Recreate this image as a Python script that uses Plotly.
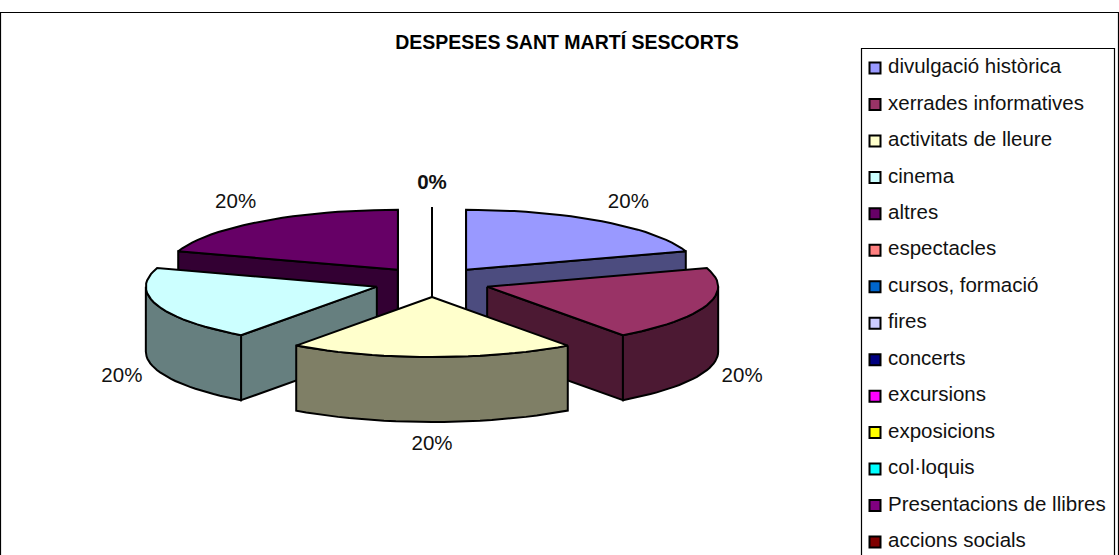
import math
import plotly.graph_objects as go

TITLE = "DESPESES SANT MARTÍ SESCORTS"
CATEGORIES = ["divulgació històrica", "xerrades informatives", "activitats de lleure", "cinema", "altres",
              "espectacles", "cursos, formació", "fires", "concerts", "excursions",
              "exposicions", "col·loquis", "Presentacions de llibres", "accions socials"]
VALUES = [20, 20, 20, 20, 20, 0, 0, 0, 0, 0, 0, 0, 0, 0]
TOP_COLORS = ["#9999FF", "#993366", "#FFFFCC", "#CCFFFF", "#660066", "#FF8080", "#0066CC",
              "#CCCCFF", "#000080", "#FF00FF", "#FFFF00", "#00FFFF", "#800080", "#800000"]

CX, CY, RX, RY, DEPTH = 432, 282, 231, 60, 65
EXPLODE = 58
FONT = "Liberation Sans, Arial, sans-serif"


def shade(col):
    r, g, b = (int(col[i:i + 2], 16) for i in (1, 3, 5))
    return f"rgb({r // 2},{g // 2},{b // 2})"


fig = go.Figure()


def poly(xs, ys, color):
    fig.add_trace(go.Scatter(x=xs, y=ys, mode="lines", fill="toself", fillcolor=color,
                             line=dict(color="black", width=2), hoverinfo="skip",
                             showlegend=False))


def rim(ax, ay, deg):
    t = math.radians(deg)
    return ax + RX * math.sin(t), ay - RY * math.cos(t)


total = sum(VALUES)
slices, acc = [], 0.0
for i, v in enumerate(VALUES):
    a = acc
    acc += 360.0 * v / total
    slices.append((i, v, a, acc))

for i, v, a, b in sorted(slices, key=lambda s: -math.cos(math.radians((s[2] + s[3]) / 2))):
    mid = math.radians((a + b) / 2)
    ax = CX + EXPLODE * math.sin(mid)
    ay = CY - EXPLODE * RY / RX * math.cos(mid)
    top, side = TOP_COLORS[i], shade(TOP_COLORS[i])
    # radial walls that face the viewer
    for deg, visible in ((a, math.sin(math.radians(a)) <= 1e-6), (b, math.sin(math.radians(b)) >= -1e-6)):
        if visible:
            px, py = rim(ax, ay, deg)
            poly([ax, px, px, ax, ax], [ay, py, py + DEPTH, ay + DEPTH, ay], side)
    # outer wall, front half only
    fa, fb = max(a, 90), min(b, 270)
    if fb > fa:
        pts = [rim(ax, ay, fa + (fb - fa) * k / 24) for k in range(25)]
        poly([p[0] for p in pts] + [p[0] for p in reversed(pts)] + [pts[0][0]],
             [p[1] for p in pts] + [p[1] + DEPTH for p in reversed(pts)] + [pts[0][1]], side)
    # top face
    n = max(1, int((b - a) / 3))
    pts = [rim(ax, ay, a + (b - a) * k / n) for k in range(n + 1)]
    poly([ax] + [p[0] for p in pts] + [ax], [ay] + [p[1] for p in pts] + [ay], top)

# data labels: one per distinct position
lx, ly, lt = [], [], []
seen_zero = False
for i, v, a, b in slices:
    if v == 0:
        if seen_zero:
            continue
        seen_zero = True
    mid = math.radians((a + b) / 2)
    s, c = math.sin(mid), math.cos(mid)
    lx.append(CX + s * (347 - 22 * abs(s)))
    ly.append(CY - 98 * c + (DEPTH if c < 0 else 0))
    lt.append(f"<b>{round(100 * v / total)}%</b>" if v == 0 else f"{round(100 * v / total)}%")
fig.add_trace(go.Scatter(x=lx, y=ly, text=lt, mode="text", textposition="middle center",
                         textfont=dict(family=FONT, size=20.5, color="#111111"),
                         hoverinfo="skip", showlegend=False))

# legend
legend_y = [68 + 36.46 * k for k in range(len(CATEGORIES))]
fig.add_trace(go.Scatter(x=[875] * len(CATEGORIES), y=legend_y, mode="markers",
                         marker=dict(symbol="square", size=11, color=TOP_COLORS,
                                     line=dict(color="black", width=2)),
                         hoverinfo="skip", showlegend=False))
fig.add_trace(go.Scatter(x=[888] * len(CATEGORIES), y=legend_y, mode="text", text=CATEGORIES,
                         textposition="middle right",
                         textfont=dict(family=FONT, size=20.5, color="#111111"),
                         hoverinfo="skip", showlegend=False))

hidden = dict(visible=False, fixedrange=True)
fig.update_layout(
    width=1119, height=555, margin=dict(l=0, r=0, t=0, b=0), autosize=False,
    paper_bgcolor="white", plot_bgcolor="white", showlegend=False,
    xaxis=dict(range=[0, 1119], **hidden), yaxis=dict(range=[555, 0], **hidden),
    title=dict(text=f"<b>{TITLE}</b>", x=567 / 1119, y=1 - 42 / 555, xanchor="center", yanchor="middle",
               font=dict(family=FONT, size=19.5, color="black")),
    shapes=[
        dict(type="rect", x0=0.5, x1=1118.5, y0=12.5, y1=570, line=dict(color="black", width=1.2), layer="below"),
        dict(type="rect", x0=861.5, x1=1114.5, y0=48.5, y1=570, line=dict(color="black", width=1.2), layer="below"),
    ],
)
fig.write_html("out.html", config=dict(displayModeBar=False),
               post_script="document.body.style.margin='0';document.documentElement.style.overflow='hidden';")
